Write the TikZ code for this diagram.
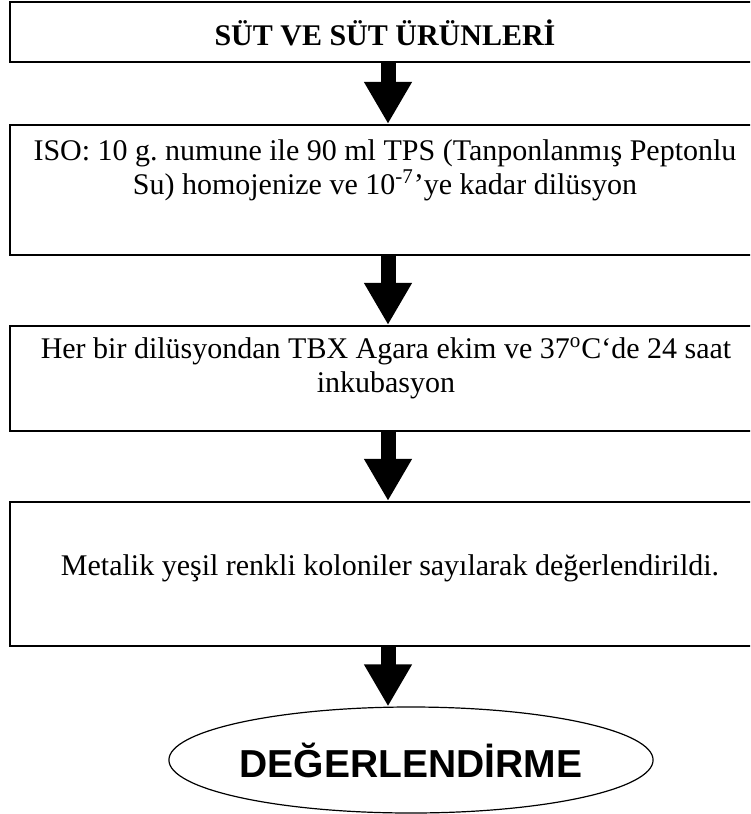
\documentclass[tikz,border=0pt]{standalone}
\usepackage{fontspec}
\setmainfont{Liberation Serif}
\newfontfamily\ovalfont{Liberation Sans}
\usetikzlibrary{shapes.geometric,arrows.meta}
\frenchspacing

\tikzset{
    kutu/.style={rectangle, draw, line width=1.1pt, minimum width=378pt, inner sep=0pt},
    yazi/.style={align=center, inner sep=0pt, font=\fontsize{15}{17}\selectfont},
    ok/.style={line width=7.5pt, -{Triangle[length=21pt, width=22.5pt]}},
}

\begin{document}
\begin{tikzpicture}[x=0.5pt, y=-0.5pt]
        \useasboundingbox (0, 0) rectangle (750, 814);
        \clip (0, 0) rectangle (750, 814);

        % Nodes
        \node[kutu, minimum height=30pt] at (388, 32) (kutu1) {};
        \node[kutu, minimum height=65pt] at (388, 190) (kutu2) {};
        \node[kutu, minimum height=52.5pt] at (388, 378.5) (kutu3) {};
        \node[kutu, minimum height=72pt] at (388, 574) (kutu4) {};
        \node[ellipse, draw, line width=0.6pt, minimum width=204pt, minimum height=53pt, inner sep=0pt,
              font=\ovalfont\bfseries\fontsize{19.5}{22}\selectfont] at (411, 760) (sonuc) {DEĞERLENDİRME};

        % Texts
        \node[yazi, font=\fontsize{15}{17}\selectfont\bfseries] at (385, 33) (baslik) {SÜT VE SÜT ÜRÜNLERİ};
        \node[yazi, anchor=north] at (385, 139) (iso) {ISO: 10 g. numune ile 90 ml TPS (Tanponlanmış Peptonlu\\
            Su) homojenize ve 10\textsuperscript{-7}’ye kadar dilüsyon};
        \node[yazi, anchor=north] at (386, 337) (tbx) {Her bir dilüsyondan TBX Agara ekim ve 37\textsuperscript{o}C‘de 24 saat\\
            inkubasyon};
        \node[yazi] at (390, 568) (metalik) {Metalik yeşil renkli koloniler sayılarak değerlendirildi.};

        \draw[ok] (kutu1.south) -- (kutu2.north);
        \draw[ok] (kutu2.south) -- (kutu3.north);
        \draw[ok] (kutu3.south) -- (kutu4.north);
        \draw[ok] (kutu4.south) -- (kutu4.south |- sonuc.north);

\end{tikzpicture}
\end{document}
